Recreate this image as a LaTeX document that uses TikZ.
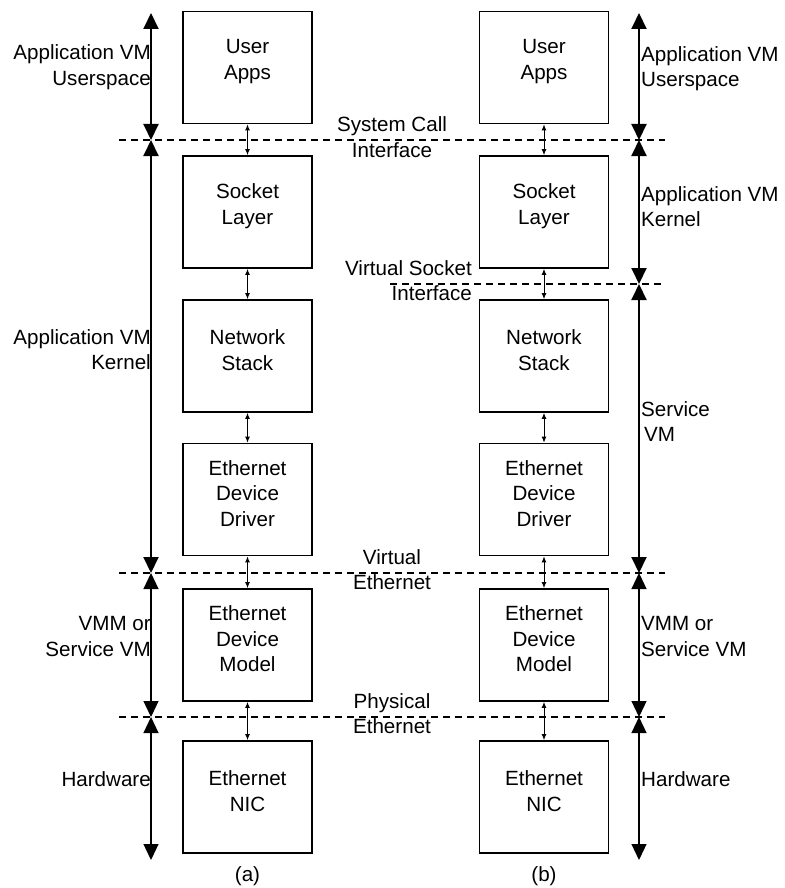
\documentclass[tikz,border=0pt]{standalone}
\usepackage{fontspec}
\setmainfont{Liberation Sans}
\usetikzlibrary{arrows.meta}
\begin{document}
\begin{tikzpicture}[x=1pt,y=-1pt,
  font=\fontsize{20.6}{25.5}\selectfont,
  layerbox/.style={draw,line width=1.7pt,minimum width=129pt,minimum height=112pt,inner sep=0pt},
  boxtext/.style={align=center,inner sep=0pt,yshift=6pt},
  lefttext/.style={align=right,anchor=east,inner sep=0pt},
  righttext/.style={align=left,anchor=west,inner sep=0pt},
  midtext/.style={align=center,inner sep=0pt},
  boundary/.style={dash pattern=on 7pt off 5pt,line width=2.6pt},
  link/.style={line width=1pt,{Latex[length=6pt,width=5pt]}-{Latex[length=6pt,width=5pt]}},
  spanthick/.style={line width=2pt,{Triangle[length=16pt,width=15pt]}-{Triangle[length=16pt,width=15pt]}},
  spanthin/.style={line width=1.2pt,{Triangle[length=16pt,width=15pt]}-{Triangle[length=16pt,width=15pt]}}
]
\useasboundingbox (0,0) rectangle (784,888);

% ---------- column (a) ----------
\node[layerbox] (a1) at (247.5,67.5) {};
\node[layerbox] (a2) at (247.5,212) {};
\node[layerbox] (a3) at (247.5,356) {};
\node[layerbox] (a4) at (247.5,499.5) {};
\node[layerbox] (a5) at (247.5,645) {};
\node[layerbox] (a6) at (247.5,797) {};
\node[boxtext] (a1t) at (a1) {User\\Apps};
\node[boxtext] (a2t) at (a2) {Socket\\Layer};
\node[boxtext] (a3t) at (a3) {Network\\Stack};
\node[boxtext] (a4t) at (a4) {Ethernet\\Device\\Driver};
\node[boxtext] (a5t) at (a5) {Ethernet\\Device\\Model};
\node[boxtext] (a6t) at (a6) {Ethernet\\NIC};
\foreach \i/\j in {1/2,2/3,3/4,4/5,5/6}
  \draw[link] (a\i.south) -- (a\j.north);
\node[midtext] (capa) at (247.5,876) {(a)};

% ---------- column (b) ----------
\node[layerbox] (b1) at (544,67.5) {};
\node[layerbox] (b2) at (544,212) {};
\node[layerbox] (b3) at (544,356) {};
\node[layerbox] (b4) at (544,499.5) {};
\node[layerbox] (b5) at (544,645) {};
\node[layerbox] (b6) at (544,797) {};
\node[boxtext] (b1t) at (b1) {User\\Apps};
\node[boxtext] (b2t) at (b2) {Socket\\Layer};
\node[boxtext] (b3t) at (b3) {Network\\Stack};
\node[boxtext] (b4t) at (b4) {Ethernet\\Device\\Driver};
\node[boxtext] (b5t) at (b5) {Ethernet\\Device\\Model};
\node[boxtext] (b6t) at (b6) {Ethernet\\NIC};
\foreach \i/\j in {1/2,2/3,3/4,4/5,5/6}
  \draw[link] (b\i.south) -- (b\j.north);
\node[midtext] (capb) at (544,876) {(b)};

% ---------- interface boundaries ----------
\coordinate (d1s) at (119,140); \coordinate (d1e) at (665,140);
\coordinate (d2s) at (390,284); \coordinate (d2e) at (665,284);
\coordinate (d3s) at (119,573); \coordinate (d3e) at (665,573);
\coordinate (d4s) at (119,717); \coordinate (d4e) at (665,717);
\draw[boundary] (d1s) -- (d1e);
\draw[boundary] (d2s) -- (d2e);
\draw[boundary] (d3s) -- (d3e);
\draw[boundary] (d4s) -- (d4e);
\node[midtext] (syscall) at (392,137) {System Call\\Interface};
\node[align=right,inner sep=0pt,anchor=east] (vsock) at (472,280.5) {Virtual Socket\\Interface};
\node[midtext] (veth) at (392,569.5) {Virtual\\Ethernet};
\node[midtext] (peth) at (392,713.5) {Physical\\Ethernet};

% ---------- left extent axis ----------
\coordinate (l0) at (151,13);
\coordinate (l1) at (151,140);
\coordinate (l2) at (151,573);
\coordinate (l3) at (151,717);
\coordinate (l4) at (151,860);
\draw[spanthick] (l0) -- (l1);
\draw[spanthick] (l1) -- (l2);
\draw[spanthin] (l2) -- (l3);
\draw[spanthin] (l3) -- (l4);
\node[lefttext] (lus) at (151,67) {Application VM\\Userspace};
\node[lefttext] (lker) at (151,349.5) {Application VM\\Kernel};
\node[lefttext] (lvmm) at (151,636.5) {VMM or\\Service VM};
\node[lefttext] (lhw) at (151,779) {Hardware};

% ---------- right extent axis ----------
\coordinate (r0) at (639,13);
\coordinate (r1) at (639,140);
\coordinate (r2) at (639,284);
\coordinate (r3) at (639,573);
\coordinate (r4) at (639,717);
\coordinate (r5) at (639,860);
\draw[spanthick] (r0) -- (r1);
\draw[spanthick] (r1) -- (r2);
\draw[spanthick] (r2) -- (r3);
\draw[spanthin] (r3) -- (r4);
\draw[spanthin] (r4) -- (r5);
\node[righttext] (rus) at (641,68.5) {Application VM\\Userspace};
\node[righttext] (rker) at (641,206.5) {Application VM\\Kernel};
\node[righttext] (rsvc) at (641,421.5) {Service\\\hspace{3pt}VM};
\node[righttext] (rvmm) at (641,636.5) {VMM or\\Service VM};
\node[righttext] (rhw) at (641,779) {Hardware};
\end{tikzpicture}
\end{document}
